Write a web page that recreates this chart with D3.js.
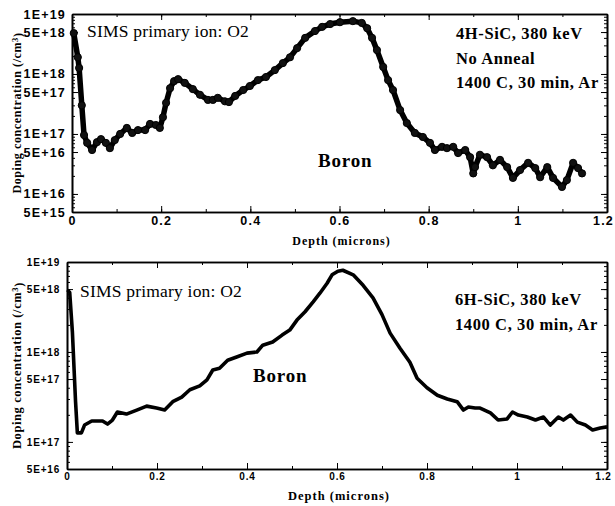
<!DOCTYPE html>
<html>
<head>
<meta charset="utf-8">
<script src="https://cdn.jsdelivr.net/npm/d3@7"></script>
<style>
  body { margin: 0; background: #fff; }
  svg { display: block; font-family: "Liberation Serif", "Times New Roman", serif; }
  .axis path, .axis line { stroke: #000; }
  .axis text { font-weight: bold; fill: #000; }
</style>
</head>
<body>
<div id="chart"></div>
<script>
// 4H-SiC profile, depth in microns, concentration in /cm3
const topDepth = [0.004, 0.013, 0.016, 0.022, 0.027, 0.034, 0.045, 0.056, 0.065, 0.076, 0.085, 0.096, 0.108, 0.123, 0.135, 0.148, 0.164, 0.175, 0.188, 0.197,
  0.204, 0.211, 0.220, 0.229, 0.238, 0.253, 0.271, 0.287, 0.305, 0.316, 0.327, 0.343, 0.352, 0.366, 0.384, 0.399, 0.417, 0.435, 0.455, 0.473,
  0.489, 0.505, 0.523, 0.545, 0.561, 0.579, 0.601, 0.630, 0.650, 0.662, 0.673, 0.684, 0.698, 0.709, 0.720, 0.736, 0.751, 0.769, 0.787, 0.803,
  0.814, 0.830, 0.841, 0.855, 0.866, 0.882, 0.893, 0.900, 0.904, 0.915, 0.931, 0.944, 0.960, 0.976, 0.989, 1.005, 1.023, 1.039, 1.050, 1.066,
  1.079, 1.099, 1.110, 1.124, 1.135, 1.144];
const topConc = [4.8e18, 1.9e18, 1.26e18, 3.0e17, 9.6e16, 7.1e16, 5.4e16, 7.3e16, 8.2e16, 7.1e16, 5.8e16, 7.9e16, 1.0e17, 1.26e17, 1.04e17, 1.16e17, 1.16e17, 1.47e17, 1.41e17, 1.26e17,
  1.9e17, 3.3e17, 5.8e17, 7.6e17, 8.2e17, 7.1e17, 5.6e17, 4.5e17, 3.7e17, 3.7e17, 4.0e17, 3.5e17, 3.4e17, 4.3e17, 5.4e17, 6.3e17, 7.9e17, 8.9e17, 1.16e18, 1.52e18,
  1.9e18, 2.7e18, 4.0e18, 5.2e18, 6.1e18, 6.8e18, 7.3e18, 7.6e18, 7.1e18, 5.8e18, 4.0e18, 2.5e18, 1.31e18, 7.9e17, 5.4e17, 2.5e17, 1.52e17, 1.04e17, 8.9e16, 7.1e16,
  5.4e16, 6.1e16, 5.8e16, 6.1e16, 4.8e16, 5.4e16, 4.1e16, 2.2e16, 2.8e16, 4.5e16, 4.1e16, 3.0e16, 3.7e16, 2.8e16, 1.85e16, 2.5e16, 3.3e16, 2.7e16, 1.9e16, 2.8e16,
  1.85e16, 1.31e16, 1.7e16, 3.3e16, 2.7e16, 2.2e16];

// 6H-SiC profile
const botDepth = [0.001, 0.006, 0.012, 0.019, 0.023, 0.032, 0.039, 0.055, 0.079, 0.090, 0.101, 0.112, 0.132, 0.155, 0.177, 0.199, 0.217, 0.235, 0.255, 0.273,
  0.295, 0.311, 0.324, 0.339, 0.357, 0.377, 0.400, 0.422, 0.435, 0.457, 0.478, 0.495, 0.511, 0.529, 0.547, 0.562, 0.578, 0.589, 0.602, 0.613,
  0.636, 0.658, 0.680, 0.700, 0.718, 0.740, 0.762, 0.778, 0.800, 0.823, 0.845, 0.867, 0.881, 0.892, 0.907, 0.918, 0.941, 0.958, 0.978, 0.990,
  1.003, 1.023, 1.041, 1.059, 1.074, 1.092, 1.103, 1.119, 1.134, 1.152, 1.168, 1.185, 1.200];
const botConc = [4.9e18, 4.6e18, 1.66e18, 2.8e17, 1.26e17, 1.26e17, 1.54e17, 1.71e17, 1.71e17, 1.58e17, 1.75e17, 2.15e17, 2.04e17, 2.26e17, 2.5e17, 2.38e17, 2.26e17, 2.8e17, 3.15e17, 3.8e17,
  4.2e17, 4.9e17, 6.3e17, 6.6e17, 8.1e17, 8.8e17, 9.7e17, 1.0e18, 1.19e18, 1.29e18, 1.54e18, 1.75e18, 2.26e18, 2.8e18, 3.6e18, 4.5e18, 5.8e18, 7.2e18, 7.9e18, 8.1e18,
  7.2e18, 5.5e18, 4.0e18, 2.6e18, 1.62e18, 1.1e18, 7.7e17, 5.1e17, 4.0e17, 3.3e17, 3.0e17, 2.8e17, 2.26e17, 2.44e17, 2.38e17, 2.38e17, 2.1e17, 1.75e17, 1.8e17, 2.15e17,
  1.99e17, 1.89e17, 1.75e17, 1.89e17, 1.54e17, 1.89e17, 1.75e17, 1.99e17, 1.66e17, 1.54e17, 1.36e17, 1.43e17, 1.47e17];

const xTicks = [0, 0.2, 0.4, 0.6, 0.8, 1, 1.2];
const topYTicks = [5e15, 1e16, 5e16, 1e17, 5e17, 1e18, 5e18, 1e19];
const botYTicks = [5e16, 1e17, 5e17, 1e18, 5e18, 1e19];

const W = 615, H = 506;
const svg = d3.select("#chart").append("svg").attr("width", W).attr("height", H);

function sci(d) {
  const e = Math.floor(Math.log10(d) + 1e-9);
  const m = Math.round(d / Math.pow(10, e));
  return m + "E+" + e;
}

function drawPanel(p) {
  const x = d3.scaleLinear().domain([0, 1.2]).range([p.left, p.right]);
  const y = d3.scaleLog().domain(p.yDomain).range([p.bottom, p.top]);
  const g = svg.append("g");

  const minorX = d3.range(0, 1.21, 0.1);
  const minorY = y.ticks();

  // minor ticks on all four sides
  g.append("g").attr("class", "axis").attr("transform", `translate(0,${p.bottom})`)
    .call(d3.axisBottom(x).tickValues(minorX).tickSize(-3).tickSizeOuter(0).tickFormat(""));
  g.append("g").attr("class", "axis").attr("transform", `translate(0,${p.top})`)
    .call(d3.axisTop(x).tickValues(minorX).tickSize(-3).tickSizeOuter(0).tickFormat(""));
  g.append("g").attr("class", "axis").attr("transform", `translate(${p.left},0)`)
    .call(d3.axisLeft(y).tickValues(minorY).tickSize(-3).tickSizeOuter(0).tickFormat(""));
  g.append("g").attr("class", "axis").attr("transform", `translate(${p.right},0)`)
    .call(d3.axisRight(y).tickValues(minorY).tickSize(-3).tickSizeOuter(0).tickFormat(""));

  // major ticks + labels
  const xa = g.append("g").attr("class", "axis").attr("transform", `translate(0,${p.bottom})`)
    .call(d3.axisBottom(x).tickValues(xTicks).tickSize(-6).tickSizeOuter(0).tickPadding(4).tickFormat(d3.format("")));
  xa.selectAll("text").style("font-size", p.tickFont + "px").style("letter-spacing", p.spacing + "px")
    .attr("dx", d => d === 1.2 ? -4 : 0);
  const ya = g.append("g").attr("class", "axis").attr("transform", `translate(${p.left},0)`)
    .call(d3.axisLeft(y).tickValues(p.yTicks).tickSize(-6).tickSizeOuter(0).tickPadding(p.yPad).tickFormat(sci));
  ya.selectAll("text").style("font-size", p.tickFont + "px").style("letter-spacing", p.spacing + "px");
  g.append("g").attr("class", "axis").attr("transform", `translate(${p.right},0)`)
    .call(d3.axisRight(y).tickValues(p.yTicks).tickSize(-6).tickSizeOuter(0).tickFormat(""));
  g.append("g").attr("class", "axis").attr("transform", `translate(0,${p.top})`)
    .call(d3.axisTop(x).tickValues(xTicks).tickSize(-6).tickSizeOuter(0).tickFormat(""));
  g.selectAll(".axis .domain").attr("stroke-width", 1.6);

  // data
  const pts = p.depth.map((d, i) => [d, p.conc[i]]);
  const line = d3.line().x(d => x(d[0])).y(d => y(d[1]));
  g.append("path").datum(pts)
    .attr("d", line).attr("fill", "none").attr("stroke", "#000")
    .attr("stroke-width", p.lineW).attr("stroke-linejoin", "round");
  if (p.markers) {
    g.selectAll("circle").data(pts).enter().append("circle")
      .attr("cx", d => x(d[0])).attr("cy", d => y(d[1])).attr("r", 3.6)
      .attr("fill", "#111").attr("stroke", "#000").attr("stroke-width", 1);
  }

  // annotations
  g.append("text").attr("x", p.sims[0]).attr("y", p.sims[1])
    .style("font-size", "17.5px").style("letter-spacing", "0.2px").text("SIMS primary ion: O2");
  const info = g.append("text").style("font-size", "16.5px").style("font-weight", "bold")
    .style("letter-spacing", "0.6px");
  p.info.forEach((t, i) => {
    info.append("tspan").attr("x", p.infoPos[0]).attr("y", p.infoPos[1] + i * 24.5).text(t);
  });
  g.append("text").attr("x", p.boron[0]).attr("y", p.boron[1])
    .style("font-size", "19px").style("font-weight", "bold").style("letter-spacing", "0.8px").text("Boron");

  // axis titles
  g.append("text").attr("x", (p.left + p.right) / 2 + 2).attr("y", p.xTitleY)
    .attr("text-anchor", "middle").style("font-size", p.titleFont + "px").style("font-weight", "bold")
    .style("letter-spacing", "1px").text("Depth (microns)");
  const yt = g.append("text")
    .attr("transform", `translate(${p.yTitleX},${(p.top + p.bottom) / 2}) rotate(-90)`)
    .attr("text-anchor", "middle").style("font-size", p.titleFont + "px").style("font-weight", "bold")
    .style("letter-spacing", "0.6px");
  yt.append("tspan").text("Doping concentration (/cm");
  yt.append("tspan").attr("dy", "-0.4em").style("font-size", "0.7em").text("3");
  yt.append("tspan").attr("dy", "0.4em").text(")");
}

drawPanel({
  left: 72, right: 607, top: 14, bottom: 212,
  yDomain: [5e15, 1e19], yTicks: topYTicks,
  depth: topDepth, conc: topConc, markers: true, lineW: 5.5,
  tickFont: 12.5, spacing: 1.2, yPad: 6,
  sims: [87, 37], info: ["4H-SiC, 380 keV", "No Anneal", "1400 C, 30 min, Ar"], infoPos: [456, 39],
  boron: [318, 167], xTitleY: 245, yTitleX: 21, titleFont: 12
});

drawPanel({
  left: 67, right: 607, top: 262, bottom: 469,
  yDomain: [5e16, 1e19], yTicks: botYTicks,
  depth: botDepth, conc: botConc, markers: false, lineW: 3.6,
  tickFont: 10, spacing: 0.8, yPad: 7,
  sims: [80, 297], info: ["6H-SiC, 380 keV", "1400 C, 30 min, Ar"], infoPos: [455, 305],
  boron: [253, 382], xTitleY: 500, yTitleX: 21, titleFont: 12.5
});
</script>
</body>
</html>
